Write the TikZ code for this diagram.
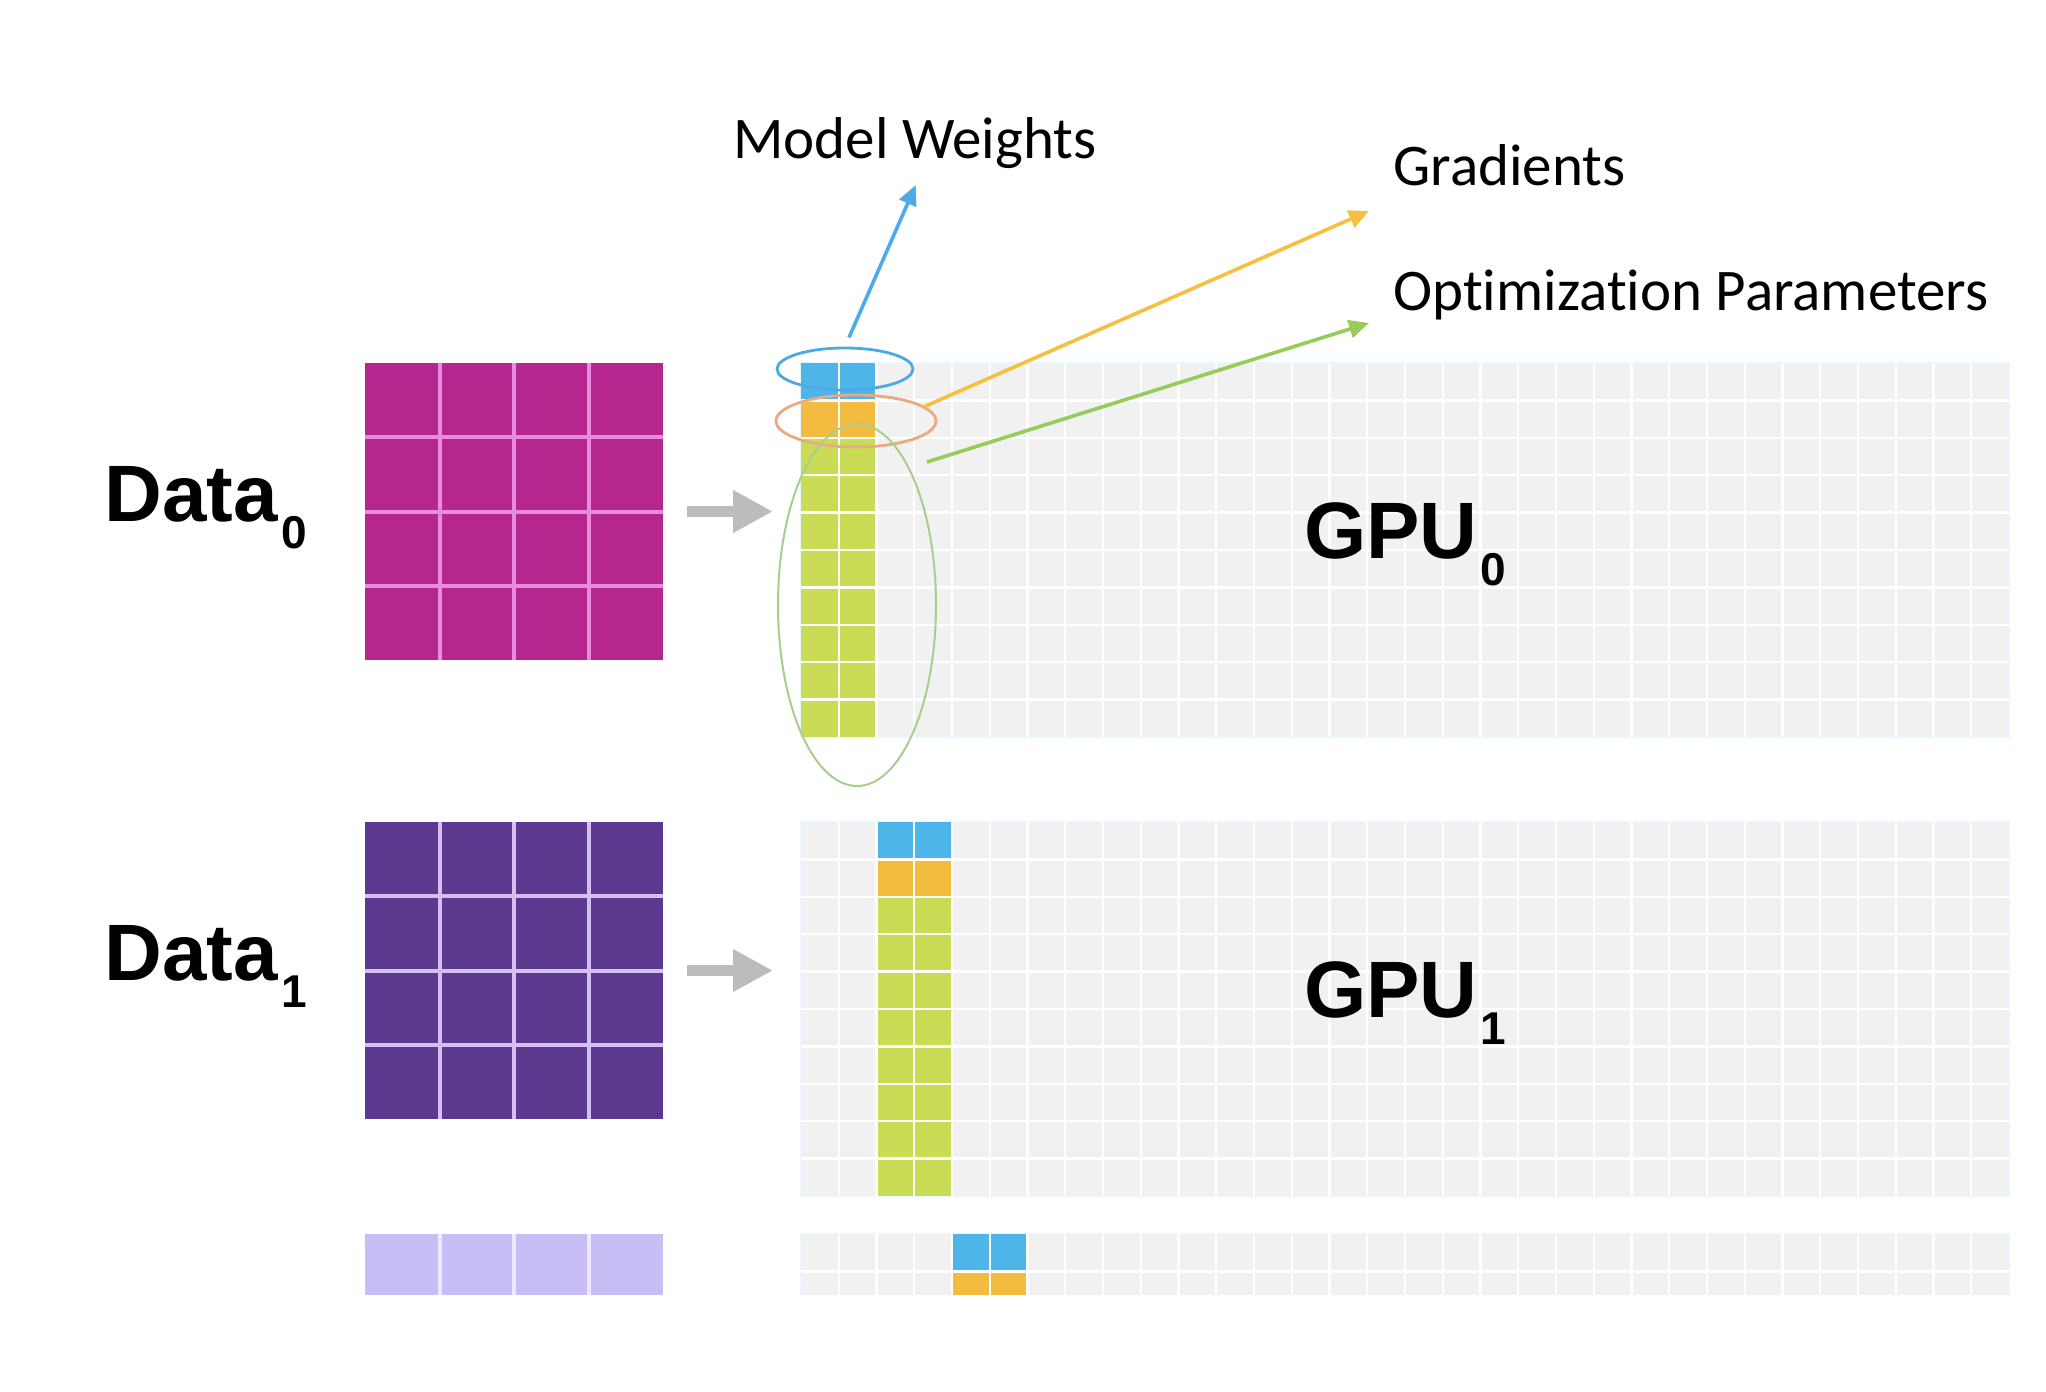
\documentclass[tikz,border=0pt]{standalone}
\usepackage{fontspec}
\setmainfont{Carlito}[Ligatures=NoCommon]
\newfontfamily\boldsans{Liberation Sans}
\usetikzlibrary{shapes.geometric, positioning, calc, arrows.meta}

\definecolor{dataA}{RGB}{182,38,143}
\definecolor{dataB}{RGB}{92,56,142}
\definecolor{dataC}{RGB}{201,189,246}
\definecolor{lineA}{RGB}{232,140,224}
\definecolor{lineB}{RGB}{214,190,240}
\definecolor{lineC}{RGB}{238,234,252}
\definecolor{panel}{RGB}{241,241,241}
\definecolor{wblue}{RGB}{78,181,232}
\definecolor{gorange}{RGB}{243,188,64}
\definecolor{ogreen}{RGB}{202,220,86}
\definecolor{ringblue}{RGB}{75,169,230}
\definecolor{ringorange}{RGB}{232,170,130}
\definecolor{ringgreen}{RGB}{168,206,142}
\definecolor{arrowblue}{RGB}{76,171,232}
\definecolor{arrowyellow}{RGB}{245,192,64}
\definecolor{arrowgreen}{RGB}{152,204,90}
\definecolor{feedgray}{RGB}{188,188,188}

\def\cellw{37.75}
\def\cellh{37.4}
\newcommand{\subidx}[1]{\kern1.5pt\raisebox{-13.5pt}{\fontsize{23}{23}\selectfont #1}}

\begin{document}
\begin{tikzpicture}[
    x=0.5pt, y=-0.5pt,
    datablk/.style={rectangle, minimum width=149pt, minimum height=148.5pt, inner sep=0pt, outer sep=0pt},
    gpupanel/.style={rectangle, fill=panel, draw=cyan!10, line width=0.8pt, minimum width=604pt, minimum height=187pt, inner sep=0pt, outer sep=0pt},
    biglbl/.style={inner sep=0pt, font=\boldsans\bfseries\fontsize{40}{42}\selectfont},
    calllbl/.style={inner sep=0pt, font=\fontsize{29.5}{34}\selectfont},
    ring/.style={ellipse, draw, inner sep=0pt, line width=1.4pt},
    callout/.style={line width=1.8pt, -{Triangle[length=10pt,width=9pt]}},
    feed/.style={draw=feedgray, line width=5.5pt, -{Triangle[length=20pt,width=20pt]}},
    cellgrid/.style={white, line width=1.2pt}
]
   \useasboundingbox (0,0) rectangle (2046,1392);

   \begin{scope}
   \clip (0,0) rectangle (2046,1294);

   % Data blocks
   \node[datablk, fill=dataA] (data0) at (514,511.5) {};
   \node[datablk, fill=dataB, below=81pt of data0] (data1) {};
   \node[datablk, fill=dataC, below=57.5pt of data1] (data2) {};

   % GPU panels
   \node[gpupanel, right=69pt of data0.north east, anchor=north west] (gpu0) {};
   \node[gpupanel, right=69pt of data1.north east, anchor=north west] (gpu1) {};
   \node[gpupanel, right=69pt of data2.north east, anchor=north west] (gpu2) {};

   % weights, gradients and optimizer states of each GPU
   \foreach \n in {0,1,2} {
      \coordinate (col\n) at ($(gpu\n.north west)+(2*\n*\cellw,0)$);
      \fill[wblue] (col\n) rectangle +(2*\cellw,\cellh);
      \fill[gorange] ($(col\n)+(0,\cellh)$) rectangle +(2*\cellw,\cellh);
      \fill[ogreen] ($(col\n)+(0,2*\cellh)$) rectangle +(2*\cellw,8*\cellh);
      \foreach \i in {1,...,31}
         \draw[cellgrid] ($(gpu\n.north west)+(\i*\cellw,0)$) -- +(0,10*\cellh);
      \foreach \j in {1,...,9}
         \draw[cellgrid] ($(gpu\n.north west)+(0,\j*\cellh)$) -- +(32*\cellw,0);
   }

   % data grid lines
   \foreach \n/\lc in {0/lineA, 1/lineB, 2/lineC} {
      \foreach \i in {1,2,3} {
         \draw[\lc, line width=2pt] ($(data\n.north west)!\i/4!(data\n.north east)$) -- ($(data\n.south west)!\i/4!(data\n.south east)$);
         \draw[\lc, line width=2pt] ($(data\n.north west)!\i/4!(data\n.south west)$) -- ($(data\n.north east)!\i/4!(data\n.south east)$);
      }
   }
   \end{scope}

   % Labels
   \node[biglbl, anchor=base east] (d0lbl) at ([xshift=-29pt,yshift=-5pt]data0.west) {Data\subidx{0}};
   \node[biglbl, anchor=base east] (d1lbl) at ([xshift=-29pt,yshift=-5pt]data1.west) {Data\subidx{1}};
   \node[biglbl, anchor=base] (g0lbl) at ([yshift=-4pt]gpu0.center) {GPU\subidx{0}};
   \node[biglbl, anchor=base] (g1lbl) at ([yshift=-4pt]gpu1.center) {GPU\subidx{1}};

   \node[calllbl, anchor=base west] (mw) at (733,158) {Model Weights};
   \node[calllbl, anchor=base west] (grad) at (1393,185) {Gradients};
   \node[calllbl, anchor=base west] (opt) at (1393,310) {Optimization Parameters};

   % Rings round the first column
   \node[ring, draw=ringblue, minimum width=68pt, minimum height=21pt] (blu) at (845,369) {};
   \node[ring, draw=ringorange, minimum width=80pt, minimum height=26pt] (orng) at (856,421) {};
   \node[ring, draw=ringgreen, line width=1pt, minimum width=79pt, minimum height=181pt] (grn) at (857,605) {};

   \coordinate (gtip) at (1369,211);
   \coordinate (gtail) at (927,462);
   \coordinate (otip) at (1369,323);

   % Arrows
   \draw[callout, arrowblue, shorten <=5pt, shorten >=9pt] (blu.north) -- ([xshift=4pt]mw.south);
   \draw[callout, arrowyellow] (orng.12) -- (gtip);
   \draw[callout, arrowgreen] (gtail) -- (otip);

   \foreach \n in {0,1}
      \draw[feed, shorten <=12pt, shorten >=14pt] (data\n.east) -- (data\n.east -| gpu\n.west);
\end{tikzpicture}
\end{document}
